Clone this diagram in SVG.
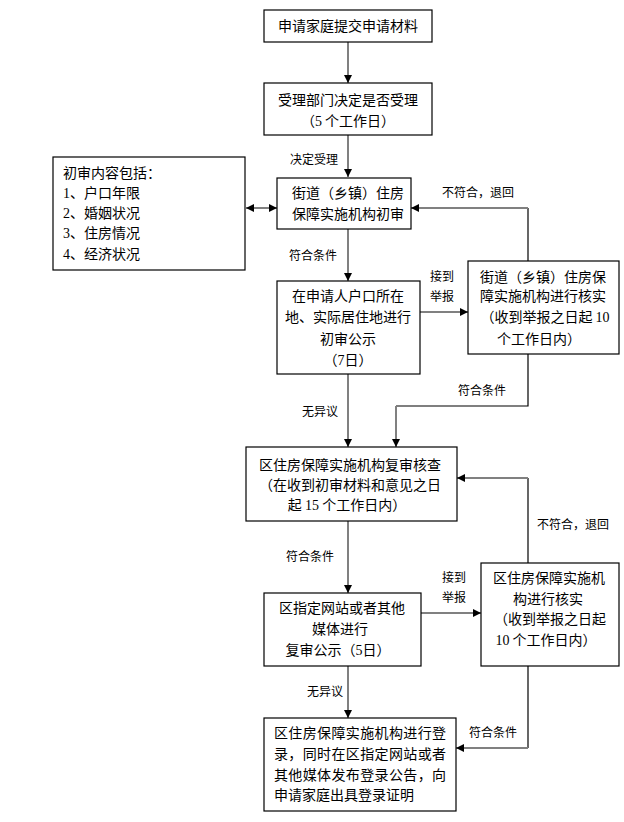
<svg xmlns="http://www.w3.org/2000/svg" width="624" height="822" viewBox="0 0 624 822">
<defs>
<marker id="ah" markerUnits="userSpaceOnUse" markerWidth="8" markerHeight="8" refX="8" refY="4" orient="auto-start-reverse">
<path d="M0,0 L8,4 L0,8 z" fill="#000"/>
</marker>
<style>
.box{fill:#fff;stroke:#000;stroke-width:1.2}
.t{font-family:"Noto Sans CJK SC","Liberation Sans",sans-serif;font-size:14px;fill:#000}
.c{text-anchor:middle}
.l{font-family:"Noto Sans CJK SC","Liberation Sans",sans-serif;font-size:12px;fill:#000}
.n{font-family:"Liberation Serif",serif}
.a{fill:none;stroke:#808080;stroke-width:2;marker-end:url(#ah)}
.s{fill:none;stroke:#000;stroke-width:1.2}
</style>
</defs>
<rect width="624" height="822" fill="#fff"/>
<g id="connectors">
<path class="a" d="M348,42 V83"/>
<path class="a" d="M348,135 V177"/>
<path class="a" d="M246,208 H277" style="marker-start:url(#ah)"/>
<path class="a" d="M348,229 V281"/>
<path class="a" d="M420,312 H468"/>
<path class="s" d="M528,261 V208"/>
<path class="a" d="M528,208 H411"/>
<path class="a" d="M348,374 V447"/>
<path class="s" d="M528,354 V406 H396"/>
<path class="a" d="M396,406 V447"/>
<path class="s" d="M528,563 V478"/>
<path class="a" d="M528,478 H457"/>
<path class="a" d="M348,521 V593"/>
<path class="a" d="M421,613 H481"/>
<path class="a" d="M348,666 V718"/>
<path class="s" d="M528,666 V748"/>
<path class="a" d="M528,748 H456"/>
<text class="l" x="290" y="164">决定受理</text>
<text class="l" x="289" y="260">符合条件</text>
<text class="l" x="430" y="281">接到</text>
<text class="l" x="430" y="301">举报</text>
<text class="l" x="442" y="197">不符合，退回</text>
<text class="l" x="458" y="395">符合条件</text>
<text class="l" x="302" y="416">无异议</text>
<text class="l" x="286" y="561">符合条件</text>
<text class="l" x="537" y="529">不符合，退回</text>
<text class="l" x="442" y="582">接到</text>
<text class="l" x="442" y="602">举报</text>
<text class="l" x="307" y="696">无异议</text>
<text class="l" x="469" y="737">符合条件</text>
</g>
<g id="n1">
<rect class="box" x="264" y="10" width="168" height="32"/>
<text class="t c" x="348" y="31">申请家庭提交申请材料</text>
</g>
<g id="n2">
<rect class="box" x="264" y="83" width="168" height="52"/>
<text class="t c" x="348" y="105">受理部门决定是否受理</text>
<text class="t c" x="348" y="126">（<tspan class="n">5</tspan> 个工作日）</text>
</g>
<g id="n_left">
<rect class="box" x="53" y="157" width="192" height="113"/>
<text class="t" x="63" y="178">初审内容包括：</text>
<text class="t" x="63" y="198"><tspan class="n">1</tspan>、户口年限</text>
<text class="t" x="63" y="218"><tspan class="n">2</tspan>、婚姻状况</text>
<text class="t" x="63" y="238"><tspan class="n">3</tspan>、住房情况</text>
<text class="t" x="63" y="259"><tspan class="n">4</tspan>、经济状况</text>
</g>
<g id="n3">
<rect class="box" x="277" y="178" width="134" height="51"/>
<text class="t c" x="348" y="198">街道（乡镇）住房</text>
<text class="t c" x="348" y="219">保障实施机构初审</text>
</g>
<g id="n4">
<rect class="box" x="277" y="281" width="143" height="93"/>
<text class="t c" x="348" y="301">在申请人户口所在</text>
<text class="t c" x="348" y="322">地、实际居住地进行</text>
<text class="t c" x="348" y="344">初审公示</text>
<text class="t c" x="348" y="365">（<tspan class="n">7</tspan>日）</text>
</g>
<g id="n5">
<rect class="box" x="468" y="261" width="151" height="93"/>
<text class="t c" x="543" y="282">街道（乡镇）住房保</text>
<text class="t c" x="543" y="301">障实施机构进行核实</text>
<text class="t c" x="545" y="322">（收到举报之日起 <tspan class="n">10</tspan></text>
<text class="t c" x="539" y="344">个工作日内）</text>
</g>
<g id="n6">
<rect class="box" x="246" y="447" width="211" height="74"/>
<text class="t c" x="350" y="470">区住房保障实施机构复审核查</text>
<text class="t c" x="350" y="490">（在收到初审材料和意见之日</text>
<text class="t c" x="347" y="510">起 <tspan class="n">15</tspan> 个工作日内）</text>
</g>
<g id="n7">
<rect class="box" x="481" y="563" width="138" height="103"/>
<text class="t c" x="549" y="583">区住房保障实施机</text>
<text class="t c" x="548" y="604">构进行核实</text>
<text class="t c" x="550" y="624">（收到举报之日起</text>
<text class="t c" x="546" y="645"><tspan class="n">10</tspan> 个工作日内）</text>
</g>
<g id="n8">
<rect class="box" x="264" y="593" width="157" height="73"/>
<text class="t c" x="342" y="613">区指定网站或者其他</text>
<text class="t c" x="340" y="634">媒体进行</text>
<text class="t c" x="338" y="655">复审公示（<tspan class="n">5</tspan>日）</text>
</g>
<g id="n9">
<rect class="box" x="264" y="718" width="192" height="93"/>
<text class="t" x="274" y="738" textLength="172" lengthAdjust="spacing">区住房保障实施机构进行登</text>
<text class="t" x="274" y="759" textLength="172" lengthAdjust="spacing">录，同时在区指定网站或者</text>
<text class="t" x="274" y="780" textLength="172" lengthAdjust="spacing">其他媒体发布登录公告，向</text>
<text class="t" x="274" y="800">申请家庭出具登录证明</text>
</g>
</svg>
